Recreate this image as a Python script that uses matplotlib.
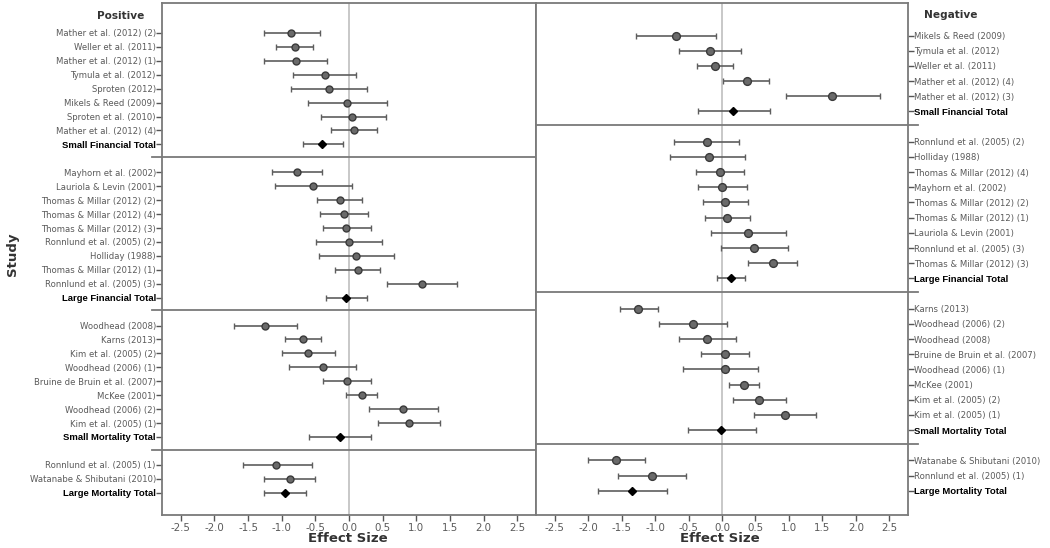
import numpy as np
import matplotlib.pyplot as plt

plt.rcParams['font.family'] = 'DejaVu Sans'
plt.rcParams['axes.unicode_minus'] = False

# Positive stimuli
pos_labels = [
    "Mather et al. (2012) (2)", "Weller et al. (2011)", "Mather et al. (2012) (1)",
    "Tymula et al. (2012)", "Sproten (2012)", "Mikels & Reed (2009)",
    "Sproten et al. (2010)", "Mather et al. (2012) (4)", "Small Financial Total",
    "Mayhorn et al. (2002)", "Lauriola & Levin (2001)", "Thomas & Millar (2012) (2)",
    "Thomas & Millar (2012) (4)", "Thomas & Millar (2012) (3)", "Ronnlund et al. (2005) (2)",
    "Holliday (1988)", "Thomas & Millar (2012) (1)", "Ronnlund et al. (2005) (3)",
    "Large Financial Total",
    "Woodhead (2008)", "Karns (2013)", "Kim et al. (2005) (2)", "Woodhead (2006) (1)",
    "Bruine de Bruin et al. (2007)", "McKee (2001)", "Woodhead (2006) (2)",
    "Kim et al. (2005) (1)", "Small Mortality Total",
    "Ronnlund et al. (2005) (1)", "Watanabe & Shibutani (2010)", "Large Mortality Total",
]
pos_est = [-0.86, -0.81, -0.79, -0.36, -0.30, -0.03, 0.05, 0.07, -0.40,
           -0.78, -0.54, -0.14, -0.08, -0.04, 0.00, 0.11, 0.13, 1.08, -0.04,
           -1.25, -0.68, -0.61, -0.39, -0.03, 0.19, 0.80, 0.89, -0.14,
           -1.08, -0.88, -0.95]
pos_lo = [-1.27, -1.09, -1.26, -0.83, -0.86, -0.61, -0.42, -0.27, -0.69,
          -1.15, -1.10, -0.47, -0.43, -0.39, -0.49, -0.44, -0.21, 0.56, -0.34,
          -1.71, -0.95, -1.00, -0.89, -0.39, -0.04, 0.29, 0.43, -0.59,
          -1.58, -1.27, -1.26]
pos_hi = [-0.43, -0.53, -0.32, 0.11, 0.27, 0.56, 0.55, 0.41, -0.09,
          -0.40, 0.04, 0.19, 0.28, 0.32, 0.49, 0.67, 0.46, 1.60, 0.27,
          -0.77, -0.41, -0.21, 0.11, 0.33, 0.42, 1.32, 1.35, 0.32,
          -0.55, -0.50, -0.64]
pos_sizes = [9, 10, 9, 3]

# Negative stimuli
neg_labels = [
    "Mikels & Reed (2009)", "Tymula et al. (2012)", "Weller et al. (2011)",
    "Mather et al. (2012) (4)", "Mather et al. (2012) (3)", "Small Financial Total",
    "Ronnlund et al. (2005) (2)", "Holliday (1988)", "Thomas & Millar (2012) (4)",
    "Mayhorn et al. (2002)", "Thomas & Millar (2012) (2)", "Thomas & Millar (2012) (1)",
    "Lauriola & Levin (2001)", "Ronnlund et al. (2005) (3)", "Thomas & Millar (2012) (3)",
    "Large Financial Total",
    "Karns (2013)", "Woodhead (2006) (2)", "Woodhead (2008)",
    "Bruine de Bruin et al. (2007)", "Woodhead (2006) (1)", "McKee (2001)",
    "Kim et al. (2005) (2)", "Kim et al. (2005) (1)", "Small Mortality Total",
    "Watanabe & Shibutani (2010)", "Ronnlund et al. (2005) (1)", "Large Mortality Total",
]
neg_est = [-0.69, -0.18, -0.10, 0.37, 1.65, 0.17,
           -0.23, -0.20, -0.03, 0.00, 0.05, 0.08, 0.39, 0.48, 0.76, 0.14,
           -1.25, -0.43, -0.22, 0.04, 0.04, 0.33, 0.55, 0.94, -0.01,
           -1.58, -1.05, -1.34]
neg_lo = [-1.28, -0.65, -0.37, 0.02, 0.95, -0.36,
          -0.71, -0.77, -0.39, -0.36, -0.29, -0.26, -0.16, -0.02, 0.39, -0.07,
          -1.53, -0.94, -0.65, -0.32, -0.59, 0.11, 0.17, 0.48, -0.51,
          -2.01, -1.56, -1.86]
neg_hi = [-0.09, 0.28, 0.17, 0.70, 2.36, 0.71,
          0.26, 0.35, 0.33, 0.37, 0.39, 0.42, 0.95, 0.98, 1.12, 0.35,
          -0.96, 0.08, 0.21, 0.40, 0.54, 0.56, 0.95, 1.40, 0.51,
          -1.15, -0.54, -0.82]
neg_sizes = [6, 10, 9, 3]

x_ticks = np.arange(-2.5, 2.51, 0.5)
frame_col = '#7a7a7a'
text_col = '#5a5a5a'


def draw_panel(ax, labels, est, lo, hi, sizes, side):
    est, lo, hi = np.array(est), np.array(lo), np.array(hi)
    is_total = np.array([lab.endswith('Total') for lab in labels])

    # row positions, one blank row between groups
    y, seps = [], []
    p = 2.15
    for k, n in enumerate(sizes):
        for i in range(n):
            y.append(p)
            p += 1
        if k < len(sizes) - 1:
            seps.append(p - 0.1)
            p += 1
    y = np.array(y)

    ax.axvline(0, color='#c4c4c4', lw=1.3, zorder=0)
    ax.errorbar(est, y, xerr=[est - lo, hi - est], fmt='none', ecolor='#5e5e5e',
                elinewidth=1.2, capsize=2, capthick=1, zorder=2)
    ms = 5 if side == 'left' else 5.6
    ax.plot(est[~is_total], y[~is_total], 'o', ms=ms, mfc='#6a6a6a', mec='#3a3a3a',
            mew=1.0, zorder=3)
    ax.plot(est[is_total], y[is_total], 'D', ms=4.5, mfc='black', mec='black', zorder=3)

    xs = [-0.027, 1] if side == 'left' else [0, 1.027]
    for s in seps:
        ax.plot(xs, [s, s], transform=ax.get_yaxis_transform(), color=frame_col,
                lw=1.3, clip_on=False)

    ax.set_xlim(-2.78, 2.78)
    ax.set_ylim(y[-1] + 1.6, 0)
    ax.set_xticks(x_ticks)
    ax.set_xticklabels([f"{v:.1f}" for v in x_ticks], fontsize=7.4, color=text_col)
    if side == 'right':
        ax.yaxis.tick_right()
    ax.set_yticks(y)
    ax.set_yticklabels(labels)
    for t, tot in zip(ax.yaxis.get_major_ticks(), is_total):
        for lab in (t.label1, t.label2):
            if tot:
                lab.set_fontfamily('Liberation Sans')
                lab.set_fontweight('bold')
                lab.set_fontsize(6.8)
                lab.set_color('black')
            else:
                lab.set_fontsize(6.1)
                lab.set_color(text_col)

    ax.tick_params(axis='y', length=4, width=1, color='#555555', pad=0.5)
    ax.tick_params(axis='x', length=4, width=1, color='#555555', pad=2)
    for sp in ax.spines.values():
        sp.set_color(frame_col)
        sp.set_linewidth(1.3)


fig = plt.figure(figsize=(10.5, 5.48), dpi=100)
ax1 = fig.add_axes([162 / 1050, 33 / 548, 374 / 1050, 512 / 548])
ax2 = fig.add_axes([536 / 1050, 33 / 548, 372 / 1050, 512 / 548])

draw_panel(ax1, pos_labels, pos_est, pos_lo, pos_hi, pos_sizes, 'left')
draw_panel(ax2, neg_labels, neg_est, neg_lo, neg_hi, neg_sizes, 'right')

fig.text(121 / 1050, 1 - 16 / 548, 'Positive', ha='center', va='center',
         fontsize=7.6, fontweight='bold', color='#333333')
fig.text(951 / 1050, 1 - 15 / 548, 'Negative', ha='center', va='center',
         fontsize=7.6, fontweight='bold', color='#333333')
fig.text(348 / 1050, 1 - 538 / 548, 'Effect Size', ha='center', va='center',
         fontsize=9.5, fontweight='bold', color='#333333')
fig.text(720 / 1050, 1 - 538 / 548, 'Effect Size', ha='center', va='center',
         fontsize=9.5, fontweight='bold', color='#333333')
fig.text(12 / 1050, 1 - 254 / 548, 'Study', ha='center', va='center', rotation=90,
         fontsize=9.5, fontweight='bold', color='#333333')

fig.savefig('out.png', dpi=100, facecolor='white')
